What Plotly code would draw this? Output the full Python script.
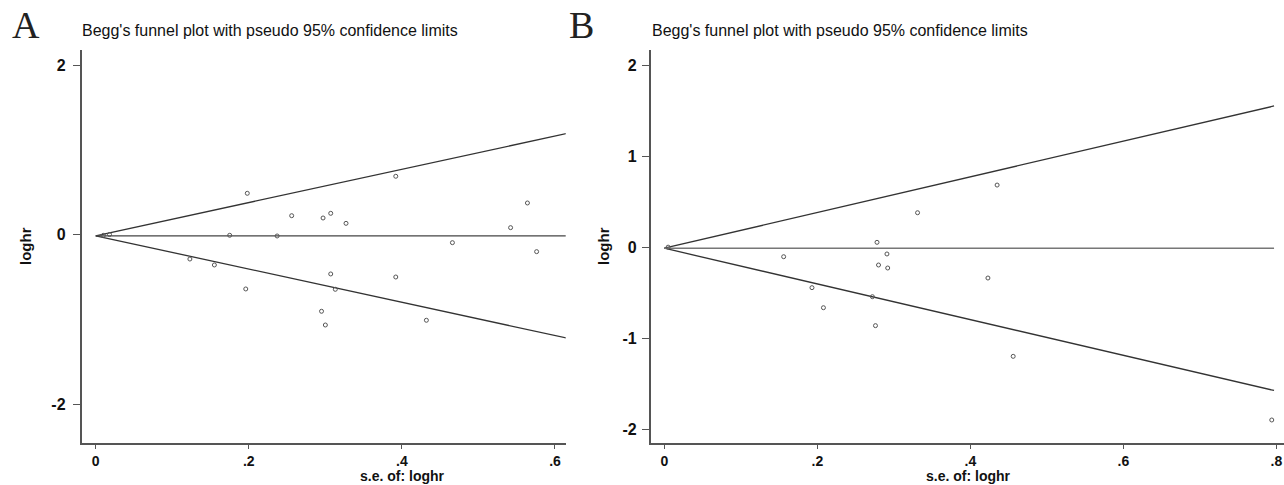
import plotly.graph_objects as go

W, H = 1284, 485

# ---------------- data ----------------
se_A = [0.010, 0.018, 0.175, 0.198, 0.237, 0.256, 0.297, 0.307, 0.327, 0.392,
        0.466, 0.542, 0.564, 0.576, 0.123, 0.155, 0.196, 0.307, 0.313, 0.392,
        0.295, 0.300, 0.432]
loghr_A = [-0.008, 0.002, -0.007, 0.488, -0.015, 0.224, 0.197, 0.252, 0.134, 0.689,
           -0.094, 0.083, 0.374, -0.200, -0.287, -0.357, -0.640, -0.463, -0.644, -0.499,
           -0.903, -1.065, -1.009]
pooled_A = -0.013
se_max_A = 0.615

se_B = [0.005, 0.278, 0.331, 0.435, 0.156, 0.291, 0.280, 0.292, 0.423, 0.193,
        0.272, 0.208, 0.276, 0.456, 0.794]
loghr_B = [0.0, 0.053, 0.378, 0.682, -0.105, -0.075, -0.196, -0.229, -0.339, -0.445,
           -0.544, -0.665, -0.862, -1.199, -1.898]
pooled_B = -0.012
se_max_B = 0.797

xticks_A = [0, 0.2, 0.4, 0.6]
xticklabels_A = ["0", ".2", ".4", ".6"]
yticks_A = [-2, 0, 2]
xticks_B = [0, 0.2, 0.4, 0.6, 0.8]
xticklabels_B = ["0", ".2", ".4", ".6", ".8"]
yticks_B = [-2, -1, 0, 1, 2]

title_text = "Begg's funnel plot with pseudo 95% confidence limits"
x_title = "s.e. of: loghr"
y_title = "loghr"

# ---------------- figure ----------------
fig = go.Figure()
LINE = "#333333"
MK = "#555555"


def add_panel(se, lg, pooled, se_max, xa, ya, hline_color):
    fun_x = [0, se_max]
    fig.add_trace(go.Scatter(x=fun_x, y=[pooled + 1.96 * s for s in fun_x], mode="lines",
                             line=dict(color=LINE, width=1.3), xaxis=xa, yaxis=ya,
                             showlegend=False, hoverinfo="skip"))
    fig.add_trace(go.Scatter(x=fun_x, y=[pooled - 1.96 * s for s in fun_x], mode="lines",
                             line=dict(color=LINE, width=1.3), xaxis=xa, yaxis=ya,
                             showlegend=False, hoverinfo="skip"))
    fig.add_trace(go.Scatter(x=fun_x, y=[pooled, pooled], mode="lines",
                             line=dict(color=hline_color, width=1.3), xaxis=xa, yaxis=ya,
                             showlegend=False, hoverinfo="skip"))
    fig.add_trace(go.Scatter(x=se, y=lg, mode="markers",
                             marker=dict(symbol="circle-open", size=4, color=MK,
                                         line=dict(width=1, color=MK)),
                             xaxis=xa, yaxis=ya, showlegend=False))


add_panel(se_A, loghr_A, pooled_A, se_max_A, "x", "y", "#444444")
add_panel(se_B, loghr_B, pooled_B, se_max_B, "x2", "y2", "#777777")

y_dom = [1 - 443.3 / H, 1 - 50 / H]
tickfont = dict(family="Liberation Sans", size=16, color="#111111", weight=700)
xtickfont = dict(family="Liberation Sans", size=14, color="#111111", weight=700)

axis_common = dict(showline=True, linecolor="#555555", linewidth=1.5, ticks="outside",
                   tickwidth=1.2, tickcolor="#555555", showgrid=False, zeroline=False)

fig.update_layout(
    width=W, height=H,
    margin=dict(l=0, r=0, t=0, b=0),
    paper_bgcolor="white", plot_bgcolor="white",
    xaxis=dict(domain=[81.5 / W, 565.7 / W], range=[-0.0186, 0.614], anchor="y",
               tickvals=xticks_A, ticktext=xticklabels_A, ticklen=4, tickfont=xtickfont,
               **axis_common),
    yaxis=dict(domain=y_dom, range=[-2.46, 2.178], anchor="x",
               tickvals=yticks_A, ticktext=[str(v) for v in yticks_A], ticklen=7,
               ticklabelstandoff=4, tickfont=tickfont, **axis_common),
    xaxis2=dict(domain=[650.7 / W, 1.0], range=[-0.0178, 0.810], anchor="y2",
                tickvals=xticks_B, ticktext=xticklabels_B, ticklen=4, tickfont=xtickfont,
                **axis_common),
    yaxis2=dict(domain=y_dom, range=[-2.154, 2.165], anchor="x2",
                tickvals=yticks_B, ticktext=[str(v) for v in yticks_B], ticklen=7,
                ticklabelstandoff=2, tickfont=tickfont, **axis_common),
)

ann = []
# panel letters
for letter, x0 in (("A", 10), ("B", 567)):
    ann.append(dict(text=letter, x=x0 / W, y=1 - 25 / H, xref="paper", yref="paper",
                    xanchor="left", yanchor="middle", showarrow=False,
                    font=dict(family="Liberation Serif", size=38, color="#222222")))
# titles
for x0 in (80, 650):
    ann.append(dict(text=title_text, x=x0 / W, y=1 - 31 / H, xref="paper", yref="paper",
                    xanchor="left", yanchor="middle", showarrow=False,
                    font=dict(family="Liberation Sans", size=16, color="#111111")))
# x-axis titles
for xc in (402, 969):
    ann.append(dict(text=x_title, x=xc / W, y=0, xref="paper", yref="paper",
                    xanchor="center", yanchor="bottom", showarrow=False, borderpad=0,
                    font=dict(family="Liberation Sans", size=14, color="#111111", weight=700)))
# y-axis titles
for xc, yc in ((25, 246), (603, 246)):
    ann.append(dict(text=y_title, x=xc / W, y=1 - yc / H, xref="paper", yref="paper",
                    xanchor="center", yanchor="middle", showarrow=False, textangle=-90,
                    font=dict(family="Liberation Sans", size=15, color="#111111", weight=700)))

fig.update_layout(annotations=ann)

fig.write_html("out.html")
